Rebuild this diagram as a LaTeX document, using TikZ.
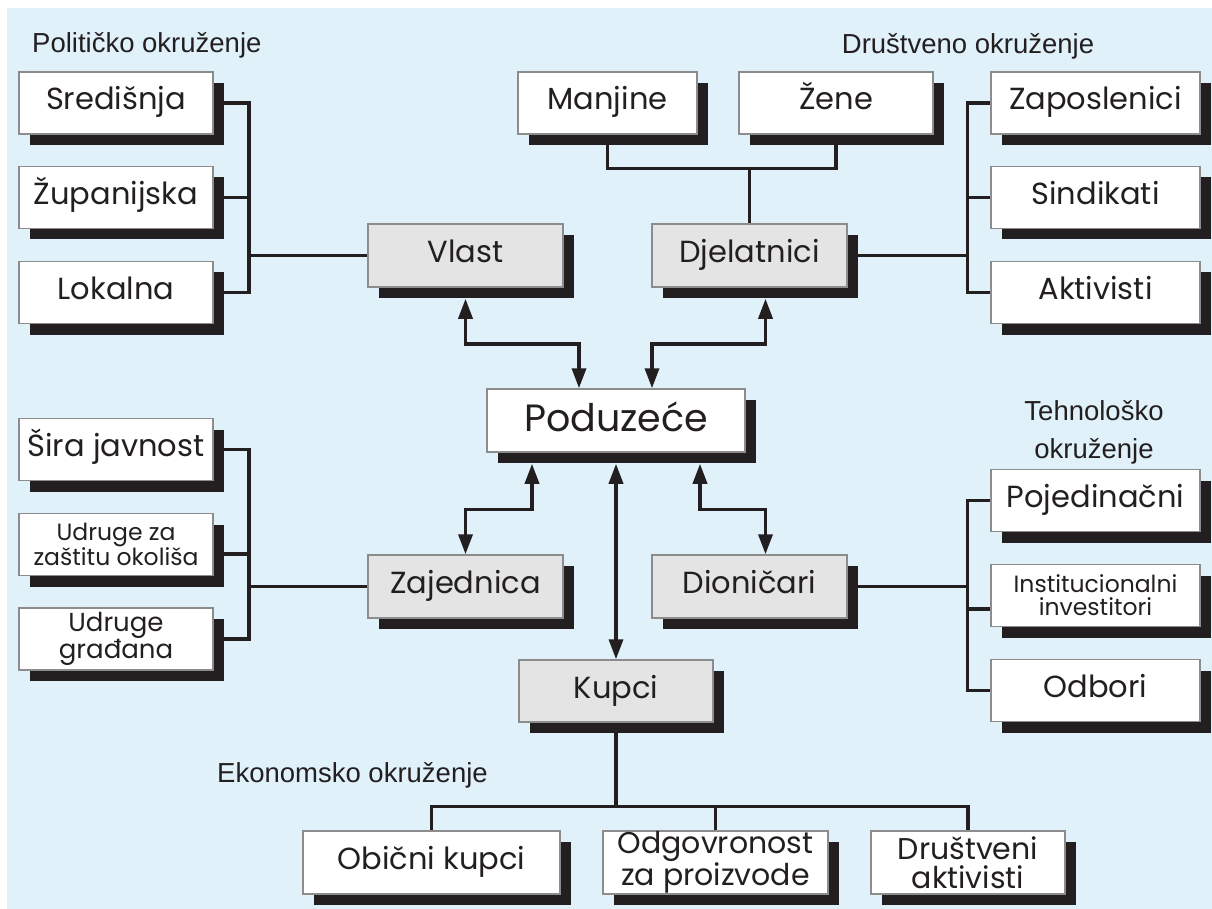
\documentclass[tikz,border=0pt]{standalone}
\usepackage{fontspec}
\setmainfont{Poppins}
\newfontfamily\labelfont{Liberation Sans}
\usetikzlibrary{arrows.meta, shadows}
\definecolor{sky}{HTML}{E0F1FA}
\definecolor{ink}{HTML}{231F20}
\definecolor{rim}{HTML}{8C8C8C}
\definecolor{hubgrey}{HTML}{E4E4E4}
\pgfdeclarelayer{sky}
\pgfdeclarelayer{wires}
\pgfsetlayers{sky,wires,main}
\tikzset{
  % Box with hard shadow
  box/.style={draw=rim, fill=white, line width=1.5pt, shape=rectangle,
    minimum width=194pt, minimum height=62pt, inner sep=0pt, align=center,
    text=ink,
    drop shadow={shadow xshift=11pt, shadow yshift=-11pt, fill=ink, opacity=1}},
  % One-line leaf box
  leaf/.style={box, font=\fontsize{30.5}{34}\selectfont,
    text height=20pt, text depth=6pt},
  % Two-line leaf boxes
  small/.style={box, font=\fontsize{23.5}{23}\selectfont},
  mid/.style={box, font=\fontsize{30}{29}\selectfont},
  % Stakeholder box
  hub/.style={leaf, fill=hubgrey, minimum width=195pt, minimum height=63pt},
  % Company box
  core/.style={leaf, minimum width=258pt, minimum height=63pt,
    font=\fontsize{38}{42}\selectfont, text height=27pt, text depth=6pt},
  % Environment label
  area/.style={text=ink, inner sep=0pt, font=\labelfont\fontsize{27.5}{32}\selectfont},
  % Lines
  wire/.style={draw=ink, line width=3.5pt},
  w<->/.style={wire, {Triangle[length=20pt,width=14pt]}-{Triangle[length=20pt,width=14pt]}},
}

\begin{document}
\begin{tikzpicture}[x=1pt, y=-1pt]
  \useasboundingbox (0,0) rectangle (1212,909);
  \begin{pgfonlayer}{sky}
    \fill[sky] (7,8) rectangle (1212,909);
  \end{pgfonlayer}

  % environments
  \node[area, anchor=west] (polit) at (32,45) {Političko okruženje};
  \node[area] (drustv) at (968,46) {Društveno okruženje};
  \node[area, align=center, font=\labelfont\fontsize{27.5}{38}\selectfont]
    (tehno) at (1094,432) {Tehnološko\\okruženje};
  \node[area, anchor=west] (ekono) at (217,775) {Ekonomsko okruženje};

  % centre and stakeholders
  \node[core] (pod) at (616,420.5) {Poduzeće};
  \node[hub] (vlast) at (465.5,255.5) {Vlast};
  \node[hub] (djel) at (749.5,255.5) {Djelatnici};
  \node[hub] (zaj) at (465.5,586.5) {Zajednica};
  \node[hub] (dion) at (749.5,586.5) {Dioničari};
  \node[hub, minimum width=194pt, minimum height=62pt] (kupci) at (616,691) {Kupci};

  % political
  \node[leaf] (sred) at (116,103) {Središnja};
  \node[leaf] (zup) at (116,197.5) {Županijska};
  \node[leaf] (lok) at (116,292.5) {Lokalna};

  % social
  \node[leaf, minimum width=179pt] (manj) at (607.5,103) {Manjine};
  \node[leaf] (zene) at (836,103) {Žene};
  \node[leaf, minimum width=209pt] (zap) at (1095.5,103) {Zaposlenici};
  \node[leaf, minimum width=209pt] (sind) at (1095.5,197.5) {Sindikati};
  \node[leaf, minimum width=209pt] (akt) at (1095.5,292.5) {Aktivisti};

  % community
  \node[leaf] (sira) at (116,449.5) {Šira javnost};
  \node[small] (udr) at (116,544.5) {Udruge za\\zaštitu okoliša};
  \node[small, font=\fontsize{26}{26}\selectfont] (gradj) at (116,639) {Udruge\\građana};

  % technological
  \node[leaf, minimum width=209pt] (poj) at (1095.5,500.5) {Pojedinačni};
  \node[small, minimum width=209pt] (inst) at (1095.5,595.5) {Institucionalni\\investitori};
  \node[leaf, minimum width=209pt] (odb) at (1095.5,690.5) {Odbori};

  % economic
  \node[leaf, minimum width=257pt, minimum height=63pt] (obic) at (431.5,862.5) {Obični kupci};
  \node[mid, minimum width=225pt, minimum height=63pt] (odg) at (715.5,862.5) {Odgovronost\\za proizvode};
  \node[mid, minimum height=63pt] (drus) at (968,862.5) {Društveni\\aktivisti};

  \begin{pgfonlayer}{wires}
    \draw[wire] (sred.east) -- ++(35,0) |- (lok.east);
    \draw[wire] (zup.east) -- ++(35,0);
    \draw[wire] (vlast.west) -- ++(-120,0);

    \draw[wire] (manj.south) -- ++(0,34) -| (zene.south);
    \draw[wire] (djel.north) -- ++(0,-56);
    \draw[wire] (djel.east) -- ++(121,0);
    \draw[wire] (zap.west) -- ++(-23,0) |- (akt.west);
    \draw[wire] (sind.west) -- ++(-23,0);

    \draw[wire] (sira.east) -- ++(35,0) |- (gradj.east);
    \draw[wire] ([yshift=-9.5pt]udr.east) -- ++(35,0);
    \draw[wire] (zaj.west) -- ++(-120,0);

    \draw[wire] (dion.east) -- ++(121,0);
    \draw[wire] (poj.west) -- ++(-23,0) |- (odb.west);
    \draw[wire] ([yshift=-13.5pt]inst.west) -- ++(-23,0);

    \draw[wire] (kupci.south) -- ++(0,85);
    \draw[wire] (obic.north) -- ++(0,-24) -| (drus.north);
    \draw[wire] (odg.north) -- ++(0,-24);
  \end{pgfonlayer}

  % two-way links
  \draw[w<->, shorten <=11pt] (vlast.south) -- ++(0,56) -| ([xshift=-37pt]pod.north);
  \draw[w<->, shorten <=11pt] ([xshift=16pt]djel.south) -- ++(0,56) -| ([xshift=36pt]pod.north);
  \draw[w<->, shorten >=11pt] (zaj.north) -- ++(0,-45) -| ([xshift=-84pt]pod.south);
  \draw[w<->, shorten >=11pt] ([xshift=16pt]dion.north) -- ++(0,-45) -| ([xshift=84pt]pod.south);
  \draw[w<->, shorten <=11pt] (pod.south) -- (kupci.north);
\end{tikzpicture}
\end{document}
